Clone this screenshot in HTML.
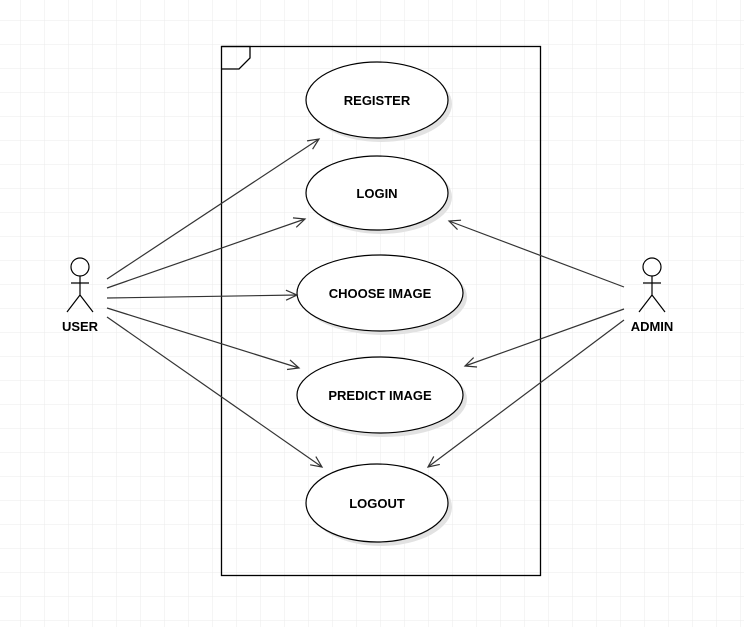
<!DOCTYPE html>
<html><head><style>
html,body{margin:0;padding:0;background:#fff;}
svg{display:block;}
text{font-family:"Liberation Sans",Arial,sans-serif;font-weight:bold;font-size:13px;fill:#000;}
</style></head><body>
<svg width="744" height="627" viewBox="0 0 744 627" xmlns="http://www.w3.org/2000/svg">
<defs>
<pattern id="g" x="20" y="20" width="24" height="24" patternUnits="userSpaceOnUse">
<path d="M0 0H24M0 0V24" stroke="#ebebeb" stroke-width="1" fill="none"/>
</pattern>
<marker id="a" markerWidth="14" markerHeight="14" refX="12" refY="6" orient="auto" markerUnits="userSpaceOnUse">
<path d="M1 1L12 6L1 11" fill="none" stroke="#333" stroke-width="1.2"/>
</marker>
</defs>
<rect width="744" height="627" fill="url(#g)"/>
<rect x="221.5" y="46.5" width="319" height="529" fill="none" stroke="#000" stroke-width="1.3"/>
<path d="M221.5 46.5H250V58L239 69H221.5" fill="none" stroke="#000" stroke-width="1.3"/>
<g fill="#e2e2e2">
<ellipse cx="381" cy="104" rx="71" ry="38"/>
<ellipse cx="381" cy="197" rx="71" ry="37"/>
<ellipse cx="384" cy="297" rx="83" ry="38"/>
<ellipse cx="384" cy="399" rx="83" ry="38"/>
<ellipse cx="381" cy="507" rx="71" ry="39"/>
</g>
<g fill="#fff" stroke="#000" stroke-width="1.2">
<ellipse cx="377" cy="100" rx="71" ry="38"/>
<ellipse cx="377" cy="193" rx="71" ry="37"/>
<ellipse cx="380" cy="293" rx="83" ry="38"/>
<ellipse cx="380" cy="395" rx="83" ry="38"/>
<ellipse cx="377" cy="503" rx="71" ry="39"/>
</g>
<g text-anchor="middle">
<text x="377" y="105">REGISTER</text>
<text x="377" y="198">LOGIN</text>
<text x="380" y="298">CHOOSE IMAGE</text>
<text x="380" y="400">PREDICT IMAGE</text>
<text x="377" y="508">LOGOUT</text>
<text x="80" y="331">USER</text>
<text x="652" y="331">ADMIN</text>
</g>
<g fill="#fff" stroke="#000" stroke-width="1.2">
<circle cx="80" cy="267" r="9"/>
<path d="M80 276V295M71 283H89M80 295L67 312M80 295L93 312" fill="none"/>
<circle cx="652" cy="267" r="9"/>
<path d="M652 276V295M643 283H661M652 295L639 312M652 295L665 312" fill="none"/>
</g>
<g stroke="#333" stroke-width="1.2" fill="none" marker-end="url(#a)">
<line x1="107" y1="279" x2="319" y2="139"/>
<line x1="107" y1="288" x2="305" y2="219"/>
<line x1="107" y1="298" x2="297" y2="295"/>
<line x1="107" y1="308" x2="299" y2="368"/>
<line x1="107" y1="317" x2="322" y2="467"/>
<line x1="624" y1="287" x2="449" y2="221"/>
<line x1="624" y1="309" x2="465" y2="366"/>
<line x1="624" y1="320" x2="428" y2="467"/>
</g>
</svg>
</body></html>
